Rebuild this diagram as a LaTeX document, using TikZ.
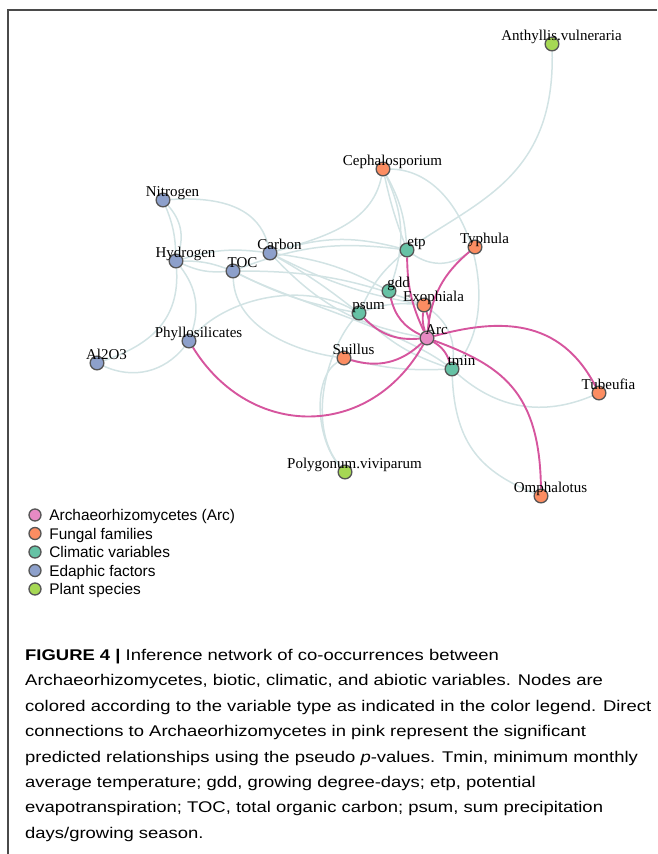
\documentclass[tikz,border=0pt]{standalone}
\usepackage{fontspec}
\usetikzlibrary{positioning, backgrounds}

\newfontfamily\netfont{Liberation Serif}
\newfontfamily\capfont{Liberation Sans}
\newfontfamily\widefont[FakeStretch=1.19]{Liberation Sans}

\definecolor{arccol}{HTML}{E78AC3}
\definecolor{funcol}{HTML}{FC8D62}
\definecolor{climcol}{HTML}{66C2A5}
\definecolor{edacol}{HTML}{8DA0CB}
\definecolor{plantcol}{HTML}{A6D854}
\definecolor{rimcol}{HTML}{555555}
\definecolor{linkcol}{HTML}{D2E3E4}
\definecolor{sigcol}{HTML}{D6559E}
\definecolor{framecol}{HTML}{4A4A4A}

\begin{document}
\begin{tikzpicture}[
    x=1pt, y=-1pt,
    node distance=5.2pt,
    vnode/.style={
        circle,
        draw=rimcol,
        line width=1.3pt,
        minimum size=13.7pt,
        inner sep=0pt
    },
    lbl/.style={
        font=\netfont\fontsize{15}{18}\selectfont,
        inner sep=0pt,
        text depth=0pt,
        xshift=9.5pt,
        yshift=-4pt
    },
    legdot/.style={
        circle,
        draw=rimcol,
        line width=1.3pt,
        minimum size=12pt,
        inner sep=0pt
    },
    legtxt/.style={
        font=\capfont\fontsize{15.4}{18}\selectfont,
        inner sep=0pt,
        text height=11pt,
        text depth=0pt,
        xshift=7.5pt
    },
    link/.style={draw=linkcol, line width=1.5pt},
    sig/.style={draw=sigcol, line width=1.9pt}
]

\useasboundingbox (0,0) rectangle (657,854);
\draw[framecol, line width=1.5pt] (657,10) -- (8,10) -- (8,854);

% Plant species
\node[vnode, fill=plantcol, label={[lbl]above:Anthyllis.vulneraria}] (anth) at (552,44) {};
\node[vnode, fill=plantcol, label={[lbl]above:Polygonum.viviparum}] (poly) at (345,472) {};

% Fungal families
\node[vnode, fill=funcol, label={[lbl]above:Cephalosporium}] (ceph) at (383,169) {};
\node[vnode, fill=funcol, label={[lbl]above:Typhula}] (typh) at (475,247) {};
\node[vnode, fill=funcol, label={[lbl]above:Exophiala}] (exo) at (424,305) {};
\node[vnode, fill=funcol, label={[lbl]above:Suillus}] (suil) at (344,358) {};
\node[vnode, fill=funcol, label={[lbl]above:Tubeufia}] (tubeu) at (599,393) {};
\node[vnode, fill=funcol, label={[lbl]above:Omphalotus}] (omph) at (541,496) {};

% Climatic variables
\node[vnode, fill=climcol, label={[lbl]above:etp}] (etp) at (407,250) {};
\node[vnode, fill=climcol, label={[lbl]above:gdd}] (gdd) at (389,291) {};
\node[vnode, fill=climcol, label={[lbl]above:psum}] (psum) at (359,313) {};
\node[vnode, fill=climcol, label={[lbl]above:tmin}] (tmin) at (452,369) {};

% Edaphic factors
\node[vnode, fill=edacol, label={[lbl]above:Nitrogen}] (nitro) at (163,200) {};
\node[vnode, fill=edacol, label={[lbl]above:Hydrogen}] (hydro) at (176,261) {};
\node[vnode, fill=edacol, label={[lbl]above:TOC}] (toc) at (233,271) {};
\node[vnode, fill=edacol, label={[lbl]above:Carbon}] (carbon) at (270,253) {};
\node[vnode, fill=edacol, label={[lbl]above:Phyllosilicates}] (phyl) at (189,341) {};
\node[vnode, fill=edacol, label={[lbl]above:Al2O3}] (alo) at (97,363) {};

% Archaeorhizomycetes
\node[vnode, fill=arccol, label={[lbl]above:Arc}] (arc) at (427,338) {};

\begin{scope}[on background layer]
    % Grey links
    \draw[link] (anth) .. controls (555,175) and (480,200) .. (etp);
    \draw[link] (ceph) to[bend left=12] (etp);
    \draw[link] (ceph) to[bend left=22] (gdd);
    \draw[link] (ceph) to[bend right=4] (etp);
    \draw[link] (ceph) .. controls (372,225) and (320,238) .. (carbon);
    \draw[link] (ceph) .. controls (470,170) and (505,310) .. (tmin);
    \draw[link] (nitro) to[bend left=10] (hydro);
    \draw[link] (nitro) to[bend left=30] (hydro);
    \draw[link] (nitro) .. controls (240,195) and (262,220) .. (carbon);
    \draw[link] (hydro) to[bend left=10] (toc);
    \draw[link] (hydro) to[bend right=14] (toc);
    \draw[link] (hydro) to[bend left=12] (carbon);
    \draw[link] (hydro) .. controls (180,320) and (150,345) .. (alo);
    \draw[link] (hydro) to[bend left=28] (phyl);
    \draw[link] (alo) to[bend right=38] (phyl);
    \draw[link] (phyl) .. controls (225,300) and (300,280) .. (psum);
    \draw[link] (toc) .. controls (235,330) and (300,352) .. (suil);
    \draw[link] (toc) to[bend left=14] (etp);
    \draw[link] (toc) to[bend left=10] (exo);
    \draw[link] (toc) .. controls (290,300) and (400,330) .. (tmin);
    \draw[link] (toc) to[bend right=8] (psum);
    \draw[link] (carbon) to[bend left=16] (etp);
    \draw[link] (carbon) to[bend left=10] (gdd);
    \draw[link] (carbon) to[bend left=4] (psum);
    \draw[link] (carbon) to[bend right=8] (exo);
    \draw[link] (carbon) to[bend right=18] (arc);
    \draw[link] (etp) to[bend right=38] (typh);
    \draw[link] (etp) to[bend right=12] (psum);
    \draw[link] (psum) to[bend left=12] (exo);
    \draw[link] (psum) to[bend right=12] (tmin);
    \draw[link] (suil) to[bend right=8] (tmin);
    \draw[link] (exo) to[bend left=30] (tmin);
    \draw[link] (suil) .. controls (312,378) and (316,440) .. (poly);
    \draw[link] (psum) .. controls (328,348) and (305,425) .. (poly);
    \draw[link] (tmin) to[bend right=32] (tubeu);
    \draw[link] (tmin) .. controls (455,445) and (482,472) .. (omph);

    % Pink links to Arc
    \draw[sig] (phyl) .. controls (250,440) and (370,440) .. (arc);
    \draw[sig] (arc) .. controls (500,318) and (560,318) .. (tubeu);
    \draw[sig] (arc) .. controls (500,365) and (540,390) .. (omph);
    \draw[sig] (arc) to[bend left=20] (tmin);
    \draw[sig] (suil) to[bend right=30] (arc);
    \draw[sig] (psum) to[bend right=25] (arc);
    \draw[sig] (etp) to[bend right=12] (arc);
    \draw[sig] (gdd) to[bend right=25] (arc);
    \draw[sig] (exo) to[bend left=15] (arc);
    \draw[sig] (exo) to[bend right=12] (arc);
    \draw[sig] (typh) to[bend right=22] (arc);
\end{scope}

% Legend
\node[legdot, fill=arccol, label={[legtxt]right:Archaeorhizomycetes (Arc)}] (legarc) at (35,515) {};
\node[legdot, fill=funcol, below=of legarc, label={[legtxt]right:Fungal families}] (legfun) {};
\node[legdot, fill=climcol, below=of legfun, label={[legtxt]right:Climatic variables}] (legclim) {};
\node[legdot, fill=edacol, below=of legclim, label={[legtxt]right:Edaphic factors}] (legeda) {};
\node[legdot, fill=plantcol, below=of legeda, label={[legtxt]right:Plant species}] (legplant) {};

% Caption
\node[anchor=north west, inner sep=0pt, align=left,
      font=\widefont\fontsize{15.5}{25.4}\selectfont] (caption) at (25,649) {%
    \textbf{FIGURE 4 |} Inference network of co-occurrences between\\
    Archaeorhizomycetes, biotic, climatic, and abiotic variables. Nodes are\\
    colored according to the variable type as indicated in the color legend. Direct\\
    connections to Archaeorhizomycetes in pink represent the significant\\
    predicted relationships using the pseudo \textit{p}-values. Tmin, minimum monthly\\
    average temperature; gdd, growing degree-days; etp, potential\\
    evapotranspiration; TOC, total organic carbon; psum, sum precipitation\\
    days/growing season.};

\end{tikzpicture}
\end{document}
